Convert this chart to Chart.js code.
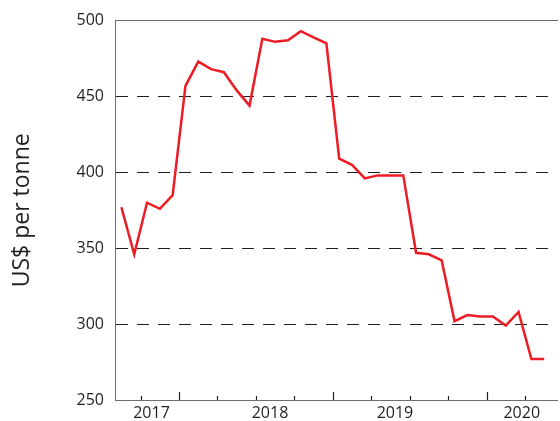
<!DOCTYPE html>
<html>
<head>
<meta charset="utf-8">
<script src="https://cdn.jsdelivr.net/npm/chart.js@4"></script>
<style>
  body { margin: 0; background: #fff; }
  #wrap { width: 560px; height: 421px; }
</style>
</head>
<body>
<div id="wrap"><canvas id="priceChart" width="560" height="421"></canvas></div>
<script>
// Monthly price, US$ per tonne (index 0 = first month shown)
const prices = [
    377, 346, 380, 376, 385, 457, 473, 468, 466, 454,
    444, 488, 486, 487, 493, 489, 485, 409, 405, 396,
    398, 398, 398, 347, 346, 342, 302, 306, 305, 305,
    299, 308, 277, 277
];

// Year labels and where they sit along the month axis
const yearLabels = ['2017', '2018', '2019', '2020'];
const yearLabelPos = [2.35, 11.6, 21.35, 31.25];

// Quarterly tick marks along the bottom axis, longer ones at year breaks
const quarterTicks = [1.5, 4.5, 7.5, 10.5, 13.5, 16.5, 19.5, 22.5, 25.5, 28.5, 31.5];
const yearBreaks = [4.5, 16.5, 28.5];

const yTicks = [250, 300, 350, 400, 450, 500];

const FONT = "'Open Sans', 'DejaVu Sans', sans-serif";
const TEXT = '#231f20';

// draws the small quarter tick marks pointing up into the plot
const quarterTickPlugin = {
    id: 'quarterTicks',
    afterDatasetsDraw(chart) {
        const ctx = chart.ctx;
        const xs = chart.scales.x;
        const bottom = chart.chartArea.bottom;
        ctx.save();
        ctx.strokeStyle = '#231f20';
        ctx.lineWidth = 1.2;
        quarterTicks.forEach(q => {
            const x = Math.round(xs.getPixelForValue(q)) + 0.5;
            const len = yearBreaks.includes(q) ? 8 : 4;
            ctx.beginPath();
            ctx.moveTo(x, bottom);
            ctx.lineTo(x, bottom - len);
            ctx.stroke();
        });
        ctx.restore();
    }
};

function initPriceChart() {
    const ctx = document.getElementById('priceChart').getContext('2d');

    const data = {
        datasets: [{
            label: 'Price',
            data: prices.map((v, i) => ({ x: i, y: v })),
            borderColor: '#ed1c24',
            borderWidth: 2.5,
            pointRadius: 0,
            tension: 0,
            fill: false
        }]
    };

    const config = {
        type: 'line',
        data: data,
        plugins: [quarterTickPlugin],
        options: {
            responsive: false,
            animation: false,
            layout: { padding: { top: 19, right: 3, left: 0, bottom: 0 } },
            plugins: {
                legend: { display: false },
                tooltip: { enabled: false }
            },
            scales: {
                x: {
                    type: 'linear',
                    position: 'bottom',
                    min: -0.5,
                    max: 34,
                    afterBuildTicks: scale => {
                        scale.ticks = yearLabelPos.map(v => ({ value: v }));
                    },
                    afterFit: scale => { scale.height = 21; },
                    grid: { display: false, drawTicks: false },
                    border: { display: true, color: '#6d6e71', width: 1 },
                    ticks: {
                        autoSkip: false,
                        maxRotation: 0,
                        padding: 4,
                        color: TEXT,
                        font: { family: FONT, size: 16 },
                        callback: (value) => {
                            const idx = yearLabelPos.indexOf(value);
                            return idx >= 0 ? yearLabels[idx] : '';
                        }
                    }
                },
                xTop: {
                    type: 'linear',
                    position: 'top',
                    grid: { display: false, drawTicks: false },
                    border: { display: true, color: '#6d6e71', width: 1 },
                    ticks: { display: false }
                },
                y: {
                    min: 250,
                    max: 500,
                    afterBuildTicks: scale => {
                        scale.ticks = yTicks.map(v => ({ value: v }));
                    },
                    afterFit: scale => { scale.width = 115; },
                    grid: {
                        color: '#231f20',
                        lineWidth: 1,
                        drawTicks: false
                    },
                    border: { display: true, color: '#6d6e71', width: 1, dash: [12, 9] },
                    ticks: {
                        padding: 11,
                        color: TEXT,
                        font: { family: FONT, size: 16 }
                    },
                    title: {
                        display: true,
                        text: 'US$ per tonne',
                        color: TEXT,
                        font: { family: FONT, size: 23 },
                        padding: { top: 9, bottom: 0 }
                    }
                }
            }
        }
    };

    new Chart(ctx, config);
}

document.addEventListener('DOMContentLoaded', initPriceChart);
</script>
</body>
</html>
